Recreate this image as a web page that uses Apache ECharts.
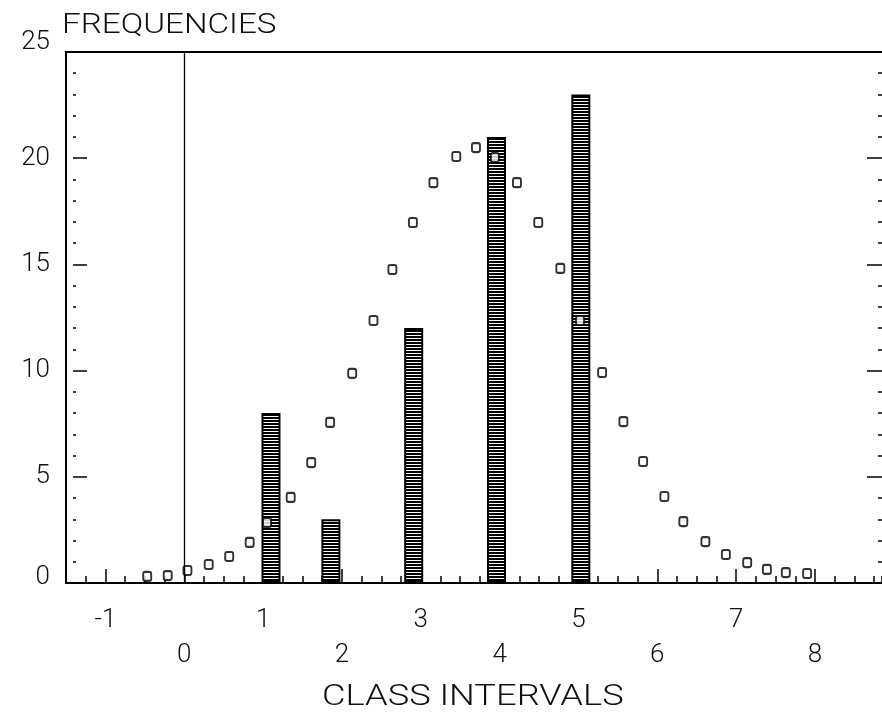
<!DOCTYPE html>
<html>
<head>
<meta charset="utf-8">
<title>Frequencies</title>
<script src="https://cdn.jsdelivr.net/npm/echarts@6.0.0/dist/echarts.min.js"></script>
<style>
  html, body { margin: 0; padding: 0; background: #fff; }
  #chart { width: 882px; height: 714px; }
</style>
</head>
<body>
<div id="chart"></div>
<script>
// histogram bars (class intervals)
var barX = [1.10, 1.86, 2.91, 3.96, 5.03]
var barY = [8, 3, 12, 21, 23]
// the little squares of the fitted curve
var curveX = [-0.47, -0.21, 0.04, 0.31, 0.57, 0.83, 1.05, 1.35, 1.61, 1.85, 2.13,
  2.40, 2.64, 2.90, 3.16, 3.45, 3.70, 3.94, 4.22, 4.49, 4.77, 5.02, 5.30, 5.57,
  5.82, 6.09, 6.33, 6.61, 6.87, 7.14, 7.39, 7.63, 7.90]
var curveY = [0.31, 0.35, 0.59, 0.87, 1.25, 1.91, 2.85, 4.03, 5.67, 7.56, 9.87,
  12.36, 14.76, 16.97, 18.85, 20.08, 20.5, 20.03, 18.85, 16.97, 14.81, 12.36, 9.91,
  7.6, 5.72, 4.07, 2.89, 1.95, 1.34, 0.96, 0.64, 0.49, 0.45]
// tick labels
var xLabels = [-1, 0, 1, 2, 3, 4, 5, 6, 7, 8]
var yLabels = [0, 5, 10, 15, 20, 25]

var font = 'Roboto'
var ink = '#111'
var xMin = -1.5
var xMax = 8.85

// horizontal line hatching for the bars
function hatch () {
  var c = document.createElement('canvas')
  c.width = 4
  c.height = 3
  var ctx = c.getContext('2d')
  ctx.fillStyle = '#fff'
  ctx.fillRect(0, 0, 4, 3)
  ctx.fillStyle = '#000'
  ctx.fillRect(0, 0, 4, 2)
  return c
}

var bars = barX.map(function (x, i) { return [x, barY[i]] })
var points = curveX.map(function (x, i) { return [x, curveY[i]] })

var chart = echarts.init(document.getElementById('chart'))
chart.setOption({
  animation: false,
  // titles drawn as stretched text, the plotter font is wide
  graphic: [
    {
      type: 'text',
      x: 62,
      y: 26,
      scaleX: 1.23,
      style: {
        text: 'FREQUENCIES',
        font: '300 27px Roboto',
        fill: ink,
        verticalAlign: 'middle'
      }
    },
    {
      type: 'text',
      x: 322,
      y: 698,
      scaleX: 1.25,
      style: {
        text: 'CLASS INTERVALS',
        font: '300 29px Roboto',
        fill: ink,
        verticalAlign: 'middle'
      }
    }
  ],
  grid: {
    left: 66,
    top: 52,
    right: 0,
    bottom: 131
  },
  xAxis: [
    {
      // minor ticks every quarter
      type: 'value',
      min: xMin,
      max: xMax,
      interval: 0.25,
      position: 'bottom',
      axisLine: { show: true, onZero: false, lineStyle: { color: '#000', width: 2 } },
      axisTick: { show: true, inside: true, length: 7, lineStyle: { color: '#000', width: 1.5 } },
      axisLabel: { show: false },
      splitLine: { show: false }
    },
    {
      // major ticks and labels, odd ones up, even ones down
      type: 'value',
      min: xMin,
      max: xMax,
      position: 'bottom',
      axisLine: { show: false, onZero: false },
      axisTick: {
        show: true,
        inside: true,
        length: 14,
        customValues: xLabels,
        lineStyle: { color: '#000', width: 1.5 }
      },
      axisLabel: {
        show: true,
        customValues: xLabels,
        margin: 20,
        fontFamily: font,
        fontWeight: 300,
        fontSize: 26,
        lineHeight: 35,
        color: ink,
        formatter: function (v) {
          return Math.abs(v) % 2 === 1 ? String(v) : '\n' + v
        }
      },
      splitLine: { show: false }
    },
    {
      // top frame line only
      type: 'value',
      min: xMin,
      max: xMax,
      position: 'top',
      axisLine: { show: true, onZero: false, lineStyle: { color: '#000', width: 2 } },
      axisTick: { show: false },
      axisLabel: { show: false },
      splitLine: { show: false }
    }
  ],
  yAxis: [
    {
      type: 'value',
      min: 0,
      max: 25,
      interval: 5,
      position: 'left',
      axisLine: { show: true, onZero: false, lineStyle: { color: '#000', width: 2 } },
      axisTick: { show: false },
      axisLabel: { show: false },
      splitLine: { show: false }
    },
    {
      // left ticks sit a little off the frame
      type: 'value',
      min: 0,
      max: 25,
      interval: 5,
      position: 'left',
      offset: -7,
      axisLine: { show: false, onZero: false },
      axisTick: { show: true, inside: true, length: 14, lineStyle: { color: '#000', width: 1.5 } },
      minorTick: { show: true, splitNumber: 5, length: 3, lineStyle: { color: '#000', width: 1.5 } },
      axisLabel: {
        show: true,
        margin: 23,
        fontFamily: font,
        fontWeight: 300,
        fontSize: 26,
        color: ink,
        // 25 and 0 sit a bit higher than their ticks in the original
        formatter: function (v) {
          if (yLabels.indexOf(v) < 0) return ''
          if (v === 25) return '{top|' + v + '}'
          if (v === 0) return '{low|' + v + '}'
          return String(v)
        },
        rich: {
          top: {
            fontFamily: font,
            fontWeight: 300,
            fontSize: 26,
            lineHeight: 30,
            color: ink,
            padding: [0, 0, 20, 0]
          },
          low: {
            fontFamily: font,
            fontWeight: 300,
            fontSize: 26,
            lineHeight: 30,
            color: ink,
            padding: [0, 0, 12, 0]
          }
        }
      },
      splitLine: { show: false },
      minorSplitLine: { show: false }
    },
    {
      type: 'value',
      min: 0,
      max: 25,
      interval: 5,
      position: 'right',
      axisLine: { show: false, onZero: false },
      axisTick: { show: true, inside: true, length: 15, lineStyle: { color: '#000', width: 1.5 } },
      minorTick: { show: true, splitNumber: 5, length: 4, lineStyle: { color: '#000', width: 1.5 } },
      axisLabel: { show: false },
      splitLine: { show: false }
    }
  ],
  series: [
    {
      type: 'bar',
      xAxisIndex: 0,
      yAxisIndex: 0,
      barWidth: 19,
      itemStyle: {
        color: { image: hatch(), repeat: 'repeat' },
        borderColor: '#000',
        borderWidth: 2
      },
      data: bars,
      z: 2
    },
    {
      type: 'scatter',
      xAxisIndex: 0,
      yAxisIndex: 0,
      symbol: 'emptyRoundRect',
      symbolSize: [8, 9],
      itemStyle: { color: '#000', borderWidth: 2 },
      data: points,
      z: 3,
      markLine: {
        silent: true,
        symbol: 'none',
        label: { show: false },
        lineStyle: { color: '#000', width: 1.3, type: 'solid' },
        data: [{ xAxis: 0 }]
      }
    }
  ]
})
</script>
</body>
</html>
